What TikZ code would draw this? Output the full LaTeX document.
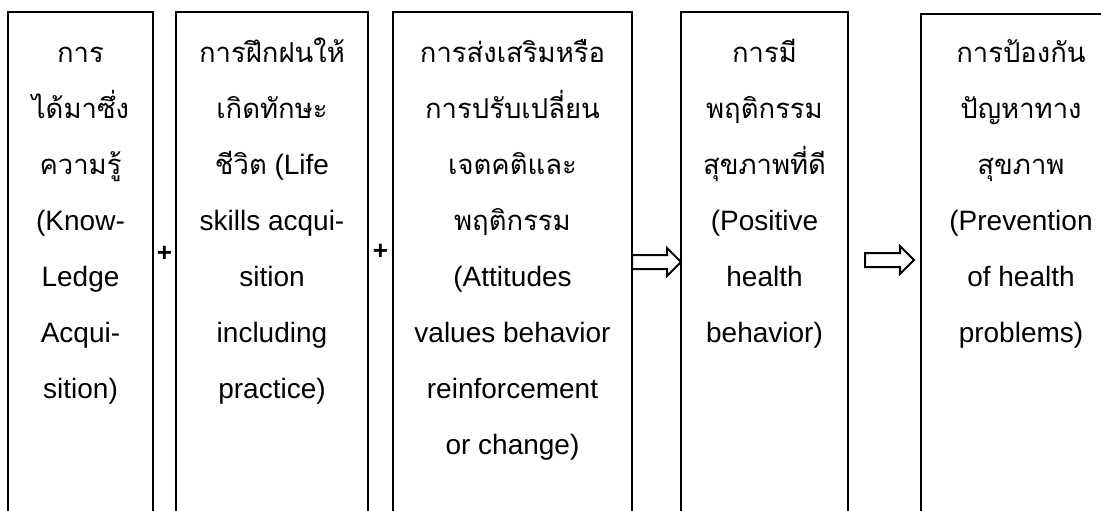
\documentclass[tikz,border=0pt]{standalone}
\usepackage{fontspec}
\setmainfont{Liberation Sans}
\newfontfamily\thaifont[Script=Thai,Scale=0.98]{Loma}
\newcommand{\thai}[1]{{\thaifont #1}}
\usepackage{tikz}
\usetikzlibrary{positioning,calc,shapes.arrows}

\begin{document}
\begin{tikzpicture}[x=0.5pt, y=-0.5pt,
    box/.style={draw, line width=1pt, minimum height=250pt, outer sep=0pt, inner sep=0pt},
    txt/.style={anchor=base, inner sep=0pt, font=\fontsize{14}{16}\selectfont},
    plus/.style={inner sep=0pt, font=\fontsize{13}{15}\selectfont\bfseries},
    barrow/.style={single arrow, draw, line width=1pt, fill=white, minimum height=24.5pt,
        single arrow head extend=3.5pt, inner xsep=0pt, inner ysep=3pt, outer sep=0pt}]
    \useasboundingbox (0,0) rectangle (1101,510);
    \clip (0,0) rectangle (1101,510);
    \node[box, minimum width=72.5pt, anchor=north west] (b1) at (8,12) {};
    \node[box, minimum width=96pt, right=11.5pt of b1] (b2) {};
    \node[box, minimum width=119.5pt, right=12.5pt of b2] (b3) {};
    \node[box, minimum width=83.5pt, right=24.5pt of b3] (b4) {};
    \node[box, minimum width=100pt, right=36.5pt of b4, yshift=-1pt] (b5) {};

    \foreach \t [count=\i] in {\thai{การ}, \thai{ได้มาซึ่ง}, \thai{ความรู้}, {(Know-}, Ledge, Acqui-, sition)}
        \node[txt] at ($(b1.north)+(0,56*\i-6)$) {\t};
    \foreach \t [count=\i] in {\thai{การฝึกฝนให้}, \thai{เกิดทักษะ}, \thai{ชีวิต} (Life, skills acqui-, sition, including, practice)}
        \node[txt] at ($(b2.north)+(0,56*\i-6)$) {\t};
    \foreach \t [count=\i] in {\thai{การส่งเสริมหรือ}, \thai{การปรับเปลี่ยน}, \thai{เจตคติและ}, \thai{พฤติกรรม}, {(Attitudes}, values behavior, reinforcement, or change)}
        \node[txt] at ($(b3.north)+(0,56*\i-6)$) {\t};
    \foreach \t [count=\i] in {\thai{การมี}, \thai{พฤติกรรม}, \thai{สุขภาพที่ดี}, {(Positive}, health, behavior)}
        \node[txt] at ($(b4.north)+(0,56*\i-6)$) {\t};
    \foreach \t [count=\i] in {\thai{การป้องกัน}, \thai{ปัญหาทาง}, \thai{สุขภาพ}, {(Prevention}, of health, problems)}
        \node[txt] at ($(b5.north)+(0,56*\i-8)$) {\t};

    \node[plus, yshift=4pt] (p1) at ($(b1.east)!0.5!(b2.west)$) {+};
    \node[plus, yshift=5pt] (p2) at ($(b2.east)!0.5!(b3.west)$) {+};
    \node[barrow, right=0pt of b3] (a1) {};
    \node[barrow, right=8.5pt of b4, yshift=1pt] (a2) {};
\end{tikzpicture}
\end{document}
